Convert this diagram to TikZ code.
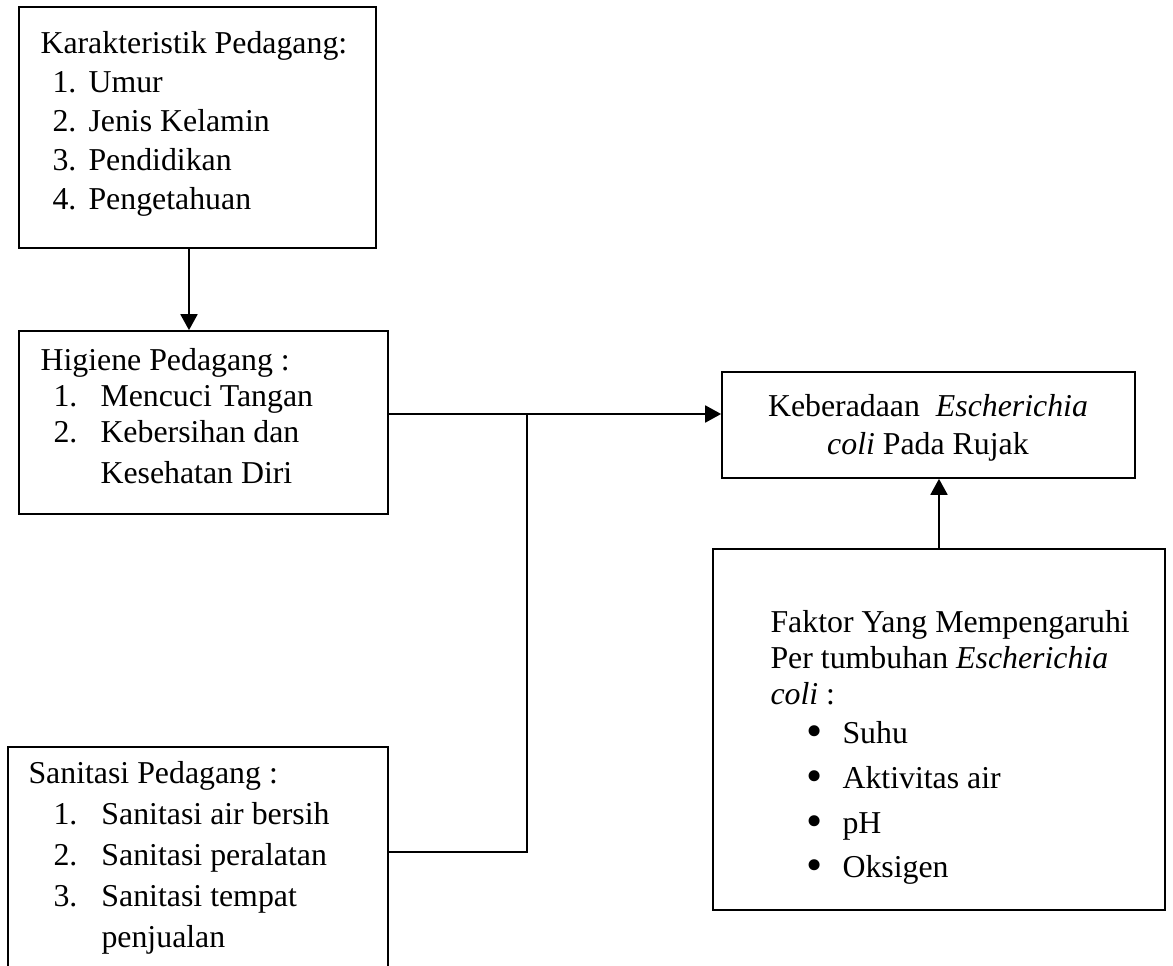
\documentclass[tikz,border=0pt]{standalone}
\usepackage{fontspec}
\usepackage{graphicx}
\setmainfont{Liberation Serif}
\usetikzlibrary{arrows.meta, fit}

\newlength\px
\setlength\px{0.377pt}
\newcommand\baris[1]{\fontsize{12pt}{#1\px}\selectfont}
\newcommand\butir[3]{\hspace*{#1\px}\makebox[#2\px][l]{#3}}
\newcommand\titik{\raisebox{-1.3pt}{\scalebox{1.45}{\textbullet}}}

\begin{document}
\begin{tikzpicture}[x=0.377pt, y=-0.377pt]
		\tikzstyle{kotak} = [rectangle, draw=black, line width=0.65pt, inner sep=0pt]
		\tikzstyle{teks} = [inner sep=0pt, anchor=base west]
		\tikzstyle{garis} = [line width=0.7pt]
		\tikzstyle{panah} = [line width=0.7pt, -{Triangle[length=6pt, width=6.4pt]}]
		
		\useasboundingbox (0,0) rectangle (1173,966);
		\clip (0,0) rectangle (1173,966);
		
		% kotak kiri
		\node (ciri) [kotak, fit={(19,7) (376,248)}] {};
		\node (ciriT) [teks] at (40,53) {\baris{39}\begin{tabular}[t]{@{}l@{}}
			Karakteristik Pedagang:\\
			\butir{12}{36}{1.}Umur\\
			\butir{12}{36}{2.}Jenis Kelamin\\
			\butir{12}{36}{3.}Pendidikan\\
			\butir{12}{36}{4.}Pengetahuan
		\end{tabular}};
		
		\node (higiene) [kotak, fit={(19,331) (388,514)}] {};
		\node (higieneT) [teks] at (40,370) {\baris{36}\begin{tabular}[t]{@{}l@{}}
			Higiene Pedagang :\\
			\butir{13}{47}{1.}Mencuci Tangan\\
			\butir{13}{47}{2.}Kebersihan dan\\[5\px]
			\butir{60}{0}{}Kesehatan Diri
		\end{tabular}};
		
		\node (sanitasi) [kotak, fit={(8,747) (388,1000)}] {};
		\node (sanitasiT) [teks] at (28,783) {\baris{41}\begin{tabular}[t]{@{}l@{}}
			Sanitasi Pedagang :\\
			\butir{25}{48}{1.}Sanitasi air bersih\\
			\butir{25}{48}{2.}Sanitasi peralatan\\
			\butir{25}{48}{3.}Sanitasi tempat\\
			\butir{73}{0}{}penjualan
		\end{tabular}};
		
		% kotak kanan
		\node (efek) [kotak, fit={(722,372) (1135,478)}] {};
		\node (efekT) [inner sep=0pt, anchor=base] at (928,416) {\baris{38}\begin{tabular}[t]{@{}c@{}}
			Keberadaan \ \textit{Escherichia}\\
			\textit{coli} Pada Rujak
		\end{tabular}};
		
		\node (faktor) [kotak, fit={(713,549) (1165,910)}] {};
		\node (faktorT) [teks] at (770,632) {\baris{36}\begin{tabular}[t]{@{}l@{}}
			Faktor Yang Mempengaruhi\\
			Per tumbuhan \textit{Escherichia}\\
			\textit{coli} :\\[3\px]
			\butir{36}{36}{\titik}Suhu\\[9\px]
			\butir{36}{36}{\titik}Aktivitas air\\[9\px]
			\butir{36}{36}{\titik}pH\\[8\px]
			\butir{36}{36}{\titik}Oksigen
		\end{tabular}};
		
		% garis penghubung
		\coordinate (turun) at (189,0);
		\coordinate (cabang) at (527,414);
		\coordinate (sambung) at (527,852);
		
		\draw [panah] (ciri.south -| turun) -- (higiene.north -| turun);
		\draw [panah] (higiene.east |- cabang) -- (efek.west |- cabang);
		\draw [garis] (sanitasi.east |- sambung) -- (sambung) -- (cabang);
		\draw [panah] (faktor.north) -- (faktor.north |- efek.south);
\end{tikzpicture}
\end{document}
